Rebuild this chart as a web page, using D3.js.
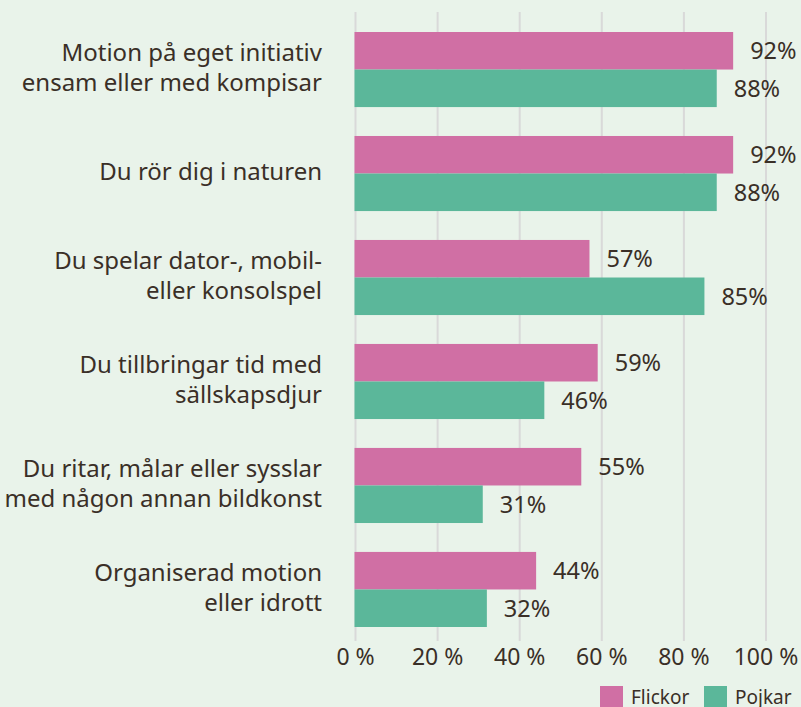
<!DOCTYPE html>
<html>
<head>
<meta charset="utf-8">
<script src="https://cdn.jsdelivr.net/npm/d3@7"></script>
<style>
  html, body { margin: 0; padding: 0; background: #e9f3ea; }
  svg { display: block; font-family: "Noto Sans", "Open Sans", sans-serif; }
</style>
</head>
<body>
<div id="chart"></div>
<script>
// Categories, one label line per array entry
const categories = [
  ['Motion på eget initiativ', 'ensam eller med kompisar'],
  ['Du rör dig i naturen'],
  ['Du spelar dator-, mobil-', 'eller konsolspel'],
  ['Du tillbringar tid med', 'sällskapsdjur'],
  ['Du ritar, målar eller sysslar', 'med någon annan bildkonst'],
  ['Organiserad motion', 'eller idrott']
];
const flickor = [92, 92, 57, 59, 55, 44];
const pojkar = [88, 88, 85, 46, 31, 32];
const seriesNames = ['Flickor', 'Pojkar'];
const ticks = [0, 20, 40, 60, 80, 100];

const width = 801, height = 707;
const colors = { Flickor: '#d06fa4', Pojkar: '#5bb79a' };
const textColor = '#3a2f27';

const svg = d3.select('#chart').append('svg')
  .attr('width', width)
  .attr('height', height);

const x = d3.scaleLinear().domain([0, 100]).range([355.5, 766]);

const y = d3.scaleBand()
  .domain(d3.range(categories.length))
  .range([32, 627])
  .paddingInner(0.278)
  .paddingOuter(0);

const sub = d3.scaleBand().domain(seriesNames).range([0, y.bandwidth()]);

// Gridlines
svg.append('g')
  .selectAll('line')
  .data(ticks)
  .join('line')
  .attr('x1', d => x(d)).attr('x2', d => x(d))
  .attr('y1', 12).attr('y2', 641)
  .attr('stroke', '#d9d9d9')
  .attr('stroke-width', 2);

// Tick labels
svg.append('g')
  .selectAll('text')
  .data(ticks)
  .join('text')
  .attr('x', d => x(d))
  .attr('y', 665)
  .attr('text-anchor', 'middle')
  .attr('fill', textColor)
  .style('font-size', '23px')
  .text(d => d + ' %');

const rows = categories.map((c, i) => ({
  i,
  label: c,
  values: [
    { key: 'Flickor', value: flickor[i] },
    { key: 'Pojkar', value: pojkar[i] }
  ]
}));

const groups = svg.append('g')
  .selectAll('g')
  .data(rows)
  .join('g')
  .attr('transform', d => 'translate(0,' + y(d.i) + ')');

groups.selectAll('rect')
  .data(d => d.values)
  .join('rect')
  .attr('x', x(0) - 1)
  .attr('y', d => sub(d.key))
  .attr('width', d => x(d.value) - x(0) + 1)
  .attr('height', sub.bandwidth())
  .attr('fill', d => colors[d.key]);

groups.selectAll('text.value')
  .data(d => d.values)
  .join('text')
  .attr('class', 'value')
  .attr('x', d => x(d.value) + 17)
  .attr('y', d => sub(d.key) + sub.bandwidth() / 2)
  .attr('dy', '0.36em')
  .attr('fill', textColor)
  .style('font-size', '23.5px')
  .text(d => d.value + '%');

// Category labels
const lineHeight = 30;
groups.append('text')
  .attr('text-anchor', 'end')
  .attr('fill', textColor)
  .style('font-size', '24px')
  .selectAll('tspan')
  .data(d => d.label.map((t, k) => ({ t, k, n: d.label.length })))
  .join('tspan')
  .attr('x', 322)
  .attr('y', d => y.bandwidth() / 2 - 2 + (d.k - (d.n - 1) / 2) * lineHeight)
  .attr('dy', '0.36em')
  .text(d => d.t);

// Legend
const legend = svg.append('g')
  .selectAll('g')
  .data(seriesNames)
  .join('g')
  .attr('transform', (d, i) => 'translate(' + [600, 704][i] + ',686)');

legend.append('rect')
  .attr('width', 23)
  .attr('height', 23)
  .attr('fill', d => colors[d]);

legend.append('text')
  .attr('x', 31)
  .attr('y', 11)
  .attr('dy', '0.36em')
  .attr('fill', textColor)
  .style('font-size', '19px')
  .text(d => d);
</script>
</body>
</html>
